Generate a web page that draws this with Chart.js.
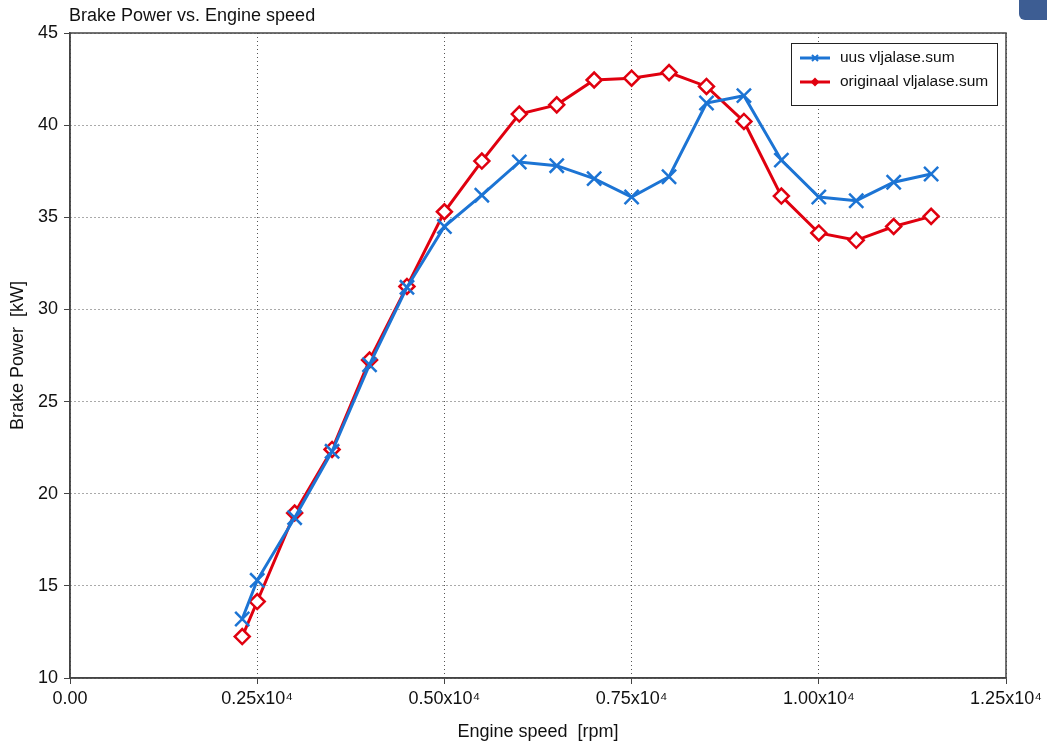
<!DOCTYPE html>
<html>
<head>
<meta charset="utf-8">
<script src="https://cdn.jsdelivr.net/npm/chart.js@4/dist/chart.umd.min.js"></script>
<style>
  html, body { margin: 0; padding: 0; background: #fff; }
  #wrap { position: relative; width: 1047px; height: 743px; }
  #corner { position: absolute; right: 0; top: -8px; width: 28px; height: 28px;
            background: #3d5d93; border-radius: 6px 0 0 6px; }
</style>
</head>
<body>
<div id="wrap">
  <canvas id="powerChart" width="1047" height="743"></canvas>
  <div id="corner"></div>
</div>
<script>

const speeds = [2300, 2500, 3000, 3500, 4000, 4500, 5000, 5500, 6000, 6500,
                7000, 7500, 8000, 8500, 9000, 9500, 10000, 10500, 11000, 11500];

const uusPower = [13.2, 15.3, 18.7, 22.3, 27.0, 31.2, 34.5, 36.2, 38.0, 37.8,
                  37.1, 36.1, 37.2, 41.2, 41.6, 38.1, 36.1, 35.9, 36.9, 37.35];

const origPower = [12.25, 14.15, 18.95, 22.4, 27.25, 31.25, 35.3, 38.05, 40.6, 41.1,
                   42.45, 42.55, 42.85, 42.1, 40.2, 36.15, 34.15, 33.75, 34.5, 35.05];

const seriesNames = ["uus vljalase.sum", "originaal vljalase.sum"];
const xTicks = [0, 2500, 5000, 7500, 10000, 12500];
const yTicks = [10, 15, 20, 25, 30, 35, 40, 45];

const BLUE = "#1c74d4";
const RED = "#e0000f";
const FONT = "'Liberation Sans', Arial, sans-serif";

function xLabel(v){
    if (v === 0) return "0.00";
    return (v / 10000).toFixed(2) + "x10\u2074";
}

const framePlugin = {
    id: "frame",
    afterDraw(chart){
        const ctx = chart.ctx;
        const a = chart.chartArea;
        ctx.save();
        ctx.strokeStyle = "#444";
        ctx.lineWidth = 1.5;
        ctx.strokeRect(a.left, a.top, a.right - a.left, a.bottom - a.top);

        // title
        ctx.fillStyle = "#111";
        ctx.font = "18px " + FONT;
        ctx.textBaseline = "middle";
        ctx.textAlign = "left";
        ctx.fillText("Brake Power vs. Engine speed", 69, 16);

        // legend box
        const bx = 791, by = 43, bw = 206, bh = 62;
        ctx.fillStyle = "#fff";
        ctx.fillRect(bx, by, bw, bh);
        ctx.strokeStyle = "#222";
        ctx.lineWidth = 1;
        ctx.strokeRect(bx + 0.5, by + 0.5, bw, bh);

        const rows = [
            {name: seriesNames[0], color: BLUE, y: by + 15},
            {name: seriesNames[1], color: RED, y: by + 39}
        ];
        rows.forEach((r, i) => {
            ctx.strokeStyle = r.color;
            ctx.lineWidth = 3;
            ctx.beginPath();
            ctx.moveTo(bx + 9, r.y);
            ctx.lineTo(bx + 39, r.y);
            ctx.stroke();
            const cx = bx + 24;
            if (i === 0) {
                ctx.lineWidth = 2;
                ctx.beginPath();
                ctx.moveTo(cx - 3, r.y - 3); ctx.lineTo(cx + 3, r.y + 3);
                ctx.moveTo(cx + 3, r.y - 3); ctx.lineTo(cx - 3, r.y + 3);
                ctx.stroke();
            } else {
                ctx.fillStyle = r.color;
                ctx.beginPath();
                ctx.moveTo(cx, r.y - 4.5); ctx.lineTo(cx + 4.5, r.y);
                ctx.lineTo(cx, r.y + 4.5); ctx.lineTo(cx - 4.5, r.y);
                ctx.closePath();
                ctx.fill();
            }
            ctx.fillStyle = "#111";
            ctx.font = "15.5px " + FONT;
            ctx.textAlign = "left";
            ctx.fillText(r.name, bx + 49, r.y);
        });
        ctx.restore();
    }
};

new Chart(

    document.getElementById("powerChart"),

    {
        type: "line",

        data: {
            datasets: [
                {
                    label: seriesNames[0],
                    data: speeds.map((s, i) => ({x: s, y: uusPower[i]})),
                    borderColor: BLUE,
                    backgroundColor: BLUE,
                    borderWidth: 3,
                    pointStyle: "crossRot",
                    pointRadius: 10,
                    pointBorderWidth: 2.5,
                    tension: 0
                },
                {
                    label: seriesNames[1],
                    data: speeds.map((s, i) => ({x: s, y: origPower[i]})),
                    borderColor: RED,
                    backgroundColor: "#fff",
                    borderWidth: 3,
                    pointStyle: "rectRot",
                    pointRadius: 7.5,
                    pointBorderWidth: 2.5,
                    tension: 0
                }
            ]
        },

        options: {
            responsive: false,
            animation: false,
            layout: {
                padding: {top: 33, right: 41, left: 0, bottom: 0}
            },
            plugins: {
                legend: {display: false},
                title: {display: false},
                tooltip: {enabled: false}
            },
            scales: {
                x: {
                    type: "linear",
                    min: 0,
                    max: 12500,
                    afterBuildTicks: axis => { axis.ticks = xTicks.map(v => ({value: v})); },
                    afterFit: axis => { axis.height = 65; },
                    ticks: {
                        callback: v => xLabel(v),
                        color: "#111",
                        font: {family: FONT, size: 18},
                        padding: 4,
                        maxRotation: 0
                    },
                    grid: {
                        color: "#555",
                        lineWidth: 1,
                        tickColor: "#444",
                        tickLength: 6,
                        tickBorderDash: []
                    },
                    border: {color: "#444", width: 1.5, dash: [1, 3]},
                    title: {
                        display: true,
                        text: "Engine speed  [rpm]",
                        color: "#111",
                        font: {family: FONT, size: 18},
                        padding: {top: 4, bottom: 0}
                    }
                },
                y: {
                    min: 10,
                    max: 45,
                    afterBuildTicks: axis => { axis.ticks = yTicks.map(v => ({value: v})); },
                    afterFit: axis => { axis.width = 70; },
                    ticks: {
                        color: "#111",
                        font: {family: FONT, size: 18},
                        padding: 6
                    },
                    grid: {
                        color: "#555",
                        lineWidth: 1,
                        tickColor: "#444",
                        tickLength: 6,
                        tickBorderDash: []
                    },
                    border: {color: "#444", width: 1.5, dash: [1, 3]},
                    title: {
                        display: true,
                        text: "Brake Power  [kW]",
                        color: "#111",
                        font: {family: FONT, size: 18},
                        padding: {top: 7, bottom: 4}
                    }
                }
            }
        },

        plugins: [framePlugin]
    }

);

</script>
</body>
</html>
